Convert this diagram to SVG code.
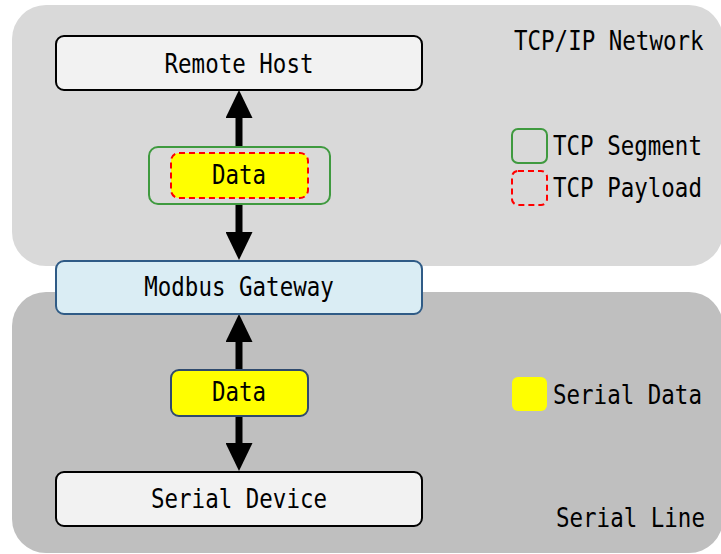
<svg xmlns="http://www.w3.org/2000/svg" width="721" height="554" viewBox="0 0 721 554">
<style>
.t{font-family:"DejaVu Sans Mono","Liberation Mono",monospace;font-size:22.5px;fill:#000}
.c{text-anchor:middle}
.node{stroke-width:2}
.conn{stroke:#000;stroke-width:7;fill:none}
</style>
<defs>
<marker id="ah" viewBox="0 0 28 27" markerWidth="28" markerHeight="27" refX="0" refY="13.5" orient="auto" markerUnits="userSpaceOnUse">
<path d="M0,0 L28,13.5 L0,27 z" fill="#000"/>
</marker>
</defs>
<g id="zone-tcp">
<rect x="12" y="5" width="711" height="261" rx="34" fill="#d9d9d9"/>
<text class="t" transform="matrix(1,0,0,1.15,514,50)">TCP/IP Network</text>
</g>
<g id="zone-serial">
<rect x="12" y="292" width="711" height="261" rx="34" fill="#bfbfbf"/>
<text class="t" transform="matrix(1,0,0,1.15,556,527)">Serial Line</text>
</g>
<g id="connectors">
<line class="conn" x1="239" y1="146" x2="239" y2="118" marker-end="url(#ah)"/>
<line class="conn" x1="239" y1="204" x2="239" y2="232" marker-end="url(#ah)"/>
<line class="conn" x1="239" y1="369" x2="239" y2="342" marker-end="url(#ah)"/>
<line class="conn" x1="239" y1="416" x2="239" y2="443" marker-end="url(#ah)"/>
</g>
<g id="remote-host">
<rect class="node" x="56" y="36" width="366" height="54" rx="8" fill="#f2f2f2" stroke="#000"/>
<text class="t c" transform="matrix(1,0,0,1.15,239,72.5)">Remote Host</text>
</g>
<g id="tcp-segment">
<rect x="149" y="147" width="181" height="57" rx="9" fill="#d9d9d9" stroke="#3f9a3f" stroke-width="2"/>
<rect x="171" y="153" width="137" height="45" rx="8" fill="#ffff00" stroke="#ff0000" stroke-width="2" stroke-dasharray="6,4"/>
<text class="t c" transform="matrix(1,0,0,1.15,239,183.5)">Data</text>
</g>
<g id="modbus-gateway">
<rect class="node" x="56" y="261" width="366" height="53" rx="8" fill="#daedf4" stroke="#2f5b86"/>
<text class="t c" transform="matrix(1,0,0,1.15,239,295.5)">Modbus Gateway</text>
</g>
<g id="serial-data">
<rect x="171" y="370" width="137" height="46" rx="8" fill="#ffff00" stroke="#2f4a6e" stroke-width="2"/>
<text class="t c" transform="matrix(1,0,0,1.15,239,400.5)">Data</text>
</g>
<g id="serial-device">
<rect class="node" x="56" y="472" width="366" height="54" rx="8" fill="#f2f2f2" stroke="#000"/>
<text class="t c" transform="matrix(1,0,0,1.15,239,507.5)">Serial Device</text>
</g>
<g id="legend">
<rect x="512" y="129" width="35" height="34" rx="6" fill="none" stroke="#3f9a3f" stroke-width="2"/>
<text class="t" transform="matrix(1,0,0,1.15,553,154.5)">TCP Segment</text>
<rect x="512" y="171" width="35" height="34" rx="6" fill="none" stroke="#ff0000" stroke-width="2" stroke-dasharray="6,4"/>
<text class="t" transform="matrix(1,0,0,1.15,553,196.5)">TCP Payload</text>
<rect x="512" y="377" width="35" height="34" rx="6" fill="#ffff00"/>
<text class="t" transform="matrix(1,0,0,1.15,553,403.5)">Serial Data</text>
</g>
</svg>
